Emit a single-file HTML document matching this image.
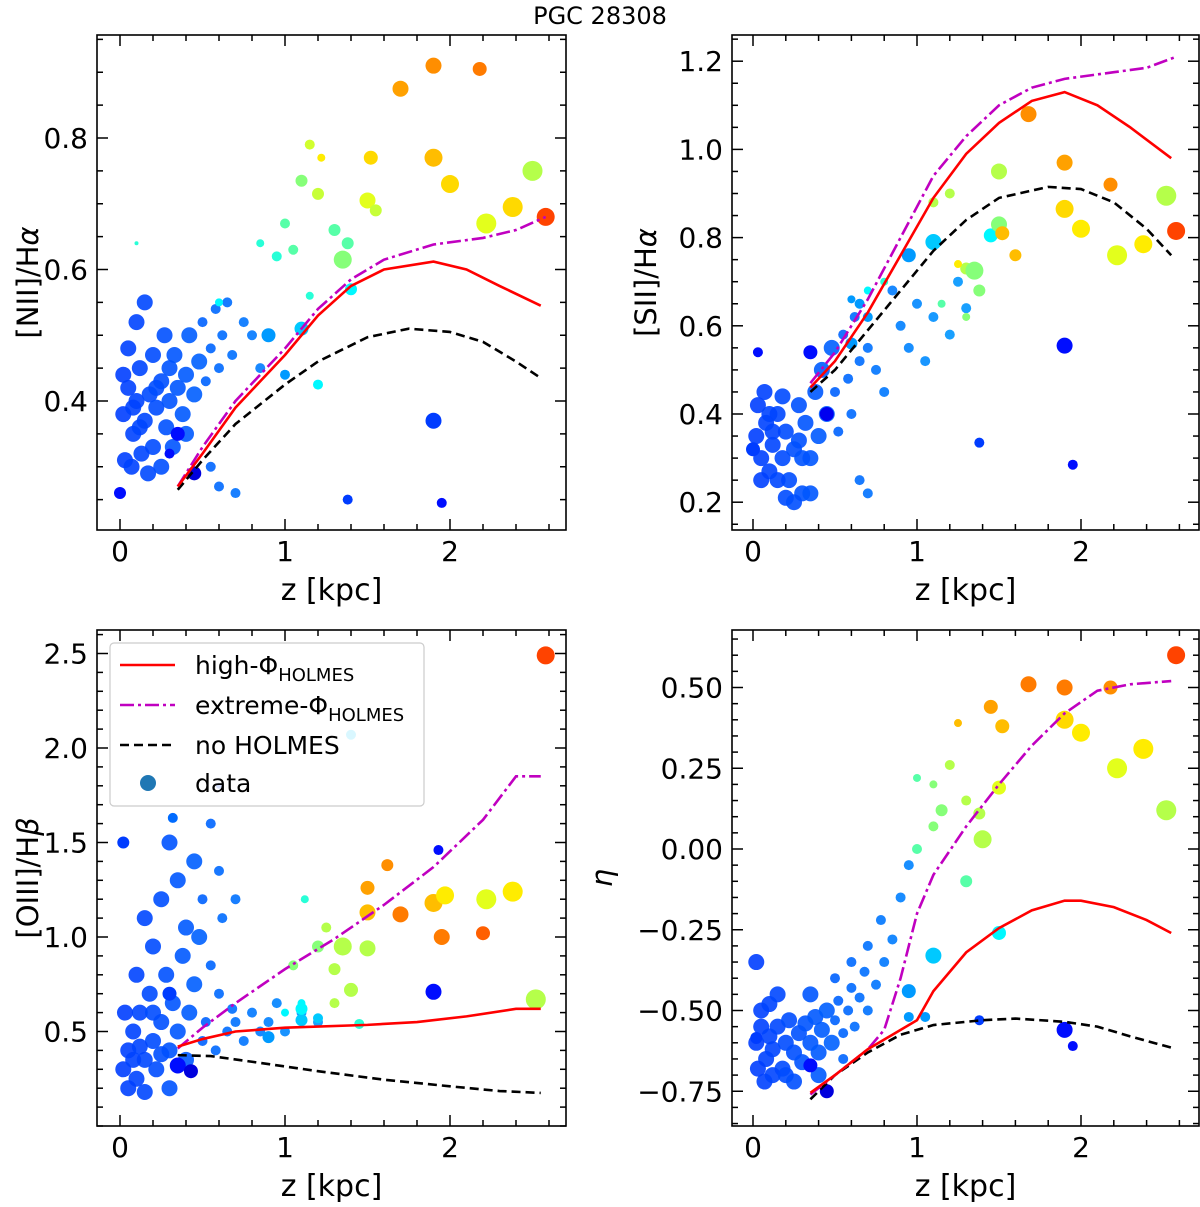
<!DOCTYPE html>
<html><head><meta charset="utf-8"><style>
body{margin:0;background:#fff;}
svg text{font-family:"DejaVu Sans","Liberation Sans",sans-serif;fill:#000;}
</style></head><body>
<svg id="fig" width="1200" height="1202" viewBox="0 0 1200 1202" xmlns="http://www.w3.org/2000/svg">
<text x="600" y="24" font-size="24" text-anchor="middle">PGC 28308</text>
</svg>
<script>
// ---------- data ----------
const ticksX = [0,1,2];
const ticksNII = [0.4,0.6,0.8];
const ticksSII = [0.2,0.4,0.6,0.8,1.0,1.2];
const ticksOIII = [0.5,1.0,1.5,2.0,2.5];
const ticksEta = [-0.75,-0.5,-0.25,0,0.25,0.5];
const labelsEta = ["\u22120.75","\u22120.50","\u22120.25","0.00","0.25","0.50"];

const niiHigh = [[0.35,0.27],[0.5,0.32],[0.7,0.39],[1.0,0.47],[1.2,0.53],[1.4,0.575],[1.6,0.60],[1.9,0.612],[2.1,0.60],[2.3,0.575],[2.55,0.545]];
const niiExt = [[0.35,0.27],[0.5,0.33],[0.7,0.40],[1.0,0.48],[1.2,0.54],[1.4,0.585],[1.6,0.615],[1.9,0.638],[2.2,0.648],[2.4,0.66],[2.58,0.68]];
const niiNo = [[0.35,0.265],[0.5,0.31],[0.7,0.365],[1.0,0.425],[1.2,0.46],[1.5,0.497],[1.75,0.51],[2.0,0.505],[2.2,0.49],[2.4,0.46],[2.55,0.435]];
const siiHigh = [[0.35,0.46],[0.5,0.52],[0.7,0.63],[0.9,0.76],[1.1,0.89],[1.3,0.99],[1.5,1.06],[1.7,1.11],[1.9,1.13],[2.1,1.10],[2.3,1.05],[2.55,0.98]];
const siiExt = [[0.35,0.47],[0.5,0.54],[0.7,0.66],[0.9,0.80],[1.1,0.94],[1.3,1.03],[1.5,1.10],[1.7,1.14],[1.9,1.16],[2.2,1.175],[2.4,1.185],[2.58,1.21]];
const siiNo = [[0.35,0.45],[0.5,0.50],[0.7,0.59],[0.9,0.68],[1.1,0.77],[1.3,0.84],[1.5,0.89],[1.8,0.915],[2.0,0.91],[2.2,0.88],[2.4,0.82],[2.55,0.76]];
const oiiiHigh = [[0.35,0.42],[0.5,0.46],[0.7,0.50],[1.0,0.52],[1.5,0.535],[1.8,0.55],[2.1,0.58],[2.4,0.62],[2.55,0.62]];
const oiiiExt = [[0.35,0.41],[0.5,0.52],[0.7,0.65],[1.0,0.83],[1.3,0.99],[1.6,1.17],[1.9,1.37],[2.2,1.62],[2.4,1.85],[2.55,1.85]];
const oiiiNo = [[0.35,0.375],[0.55,0.37],[0.8,0.34],[1.2,0.29],[1.6,0.245],[2.0,0.21],[2.3,0.185],[2.55,0.175]];
const etaHigh = [[0.35,-0.755],[0.5,-0.70],[0.7,-0.62],[0.9,-0.56],[1.0,-0.53],[1.1,-0.44],[1.3,-0.32],[1.5,-0.245],[1.7,-0.19],[1.9,-0.16],[2.0,-0.16],[2.2,-0.18],[2.4,-0.22],[2.55,-0.26]];
const etaExt = [[0.35,-0.76],[0.5,-0.70],[0.7,-0.62],[0.8,-0.56],[0.9,-0.40],[1.0,-0.20],[1.1,-0.08],[1.3,0.07],[1.5,0.20],[1.7,0.32],[1.9,0.42],[2.1,0.49],[2.3,0.51],[2.55,0.52]];
const etaNo = [[0.35,-0.775],[0.5,-0.70],[0.7,-0.63],[0.9,-0.575],[1.1,-0.545],[1.4,-0.53],[1.6,-0.525],[1.9,-0.535],[2.1,-0.55],[2.3,-0.58],[2.55,-0.615]];

// cloud points [z, value]
const niiCloud = [[0.02,0.38],[0.05,0.42],[0.08,0.35],[0.1,0.40],[0.12,0.45],[0.15,0.37],[0.18,0.41],[0.2,0.33],[0.22,0.39],[0.25,0.43],[0.28,0.36],[0.3,0.40],[0.33,0.47],[0.35,0.42],[0.38,0.38],[0.4,0.44],[0.42,0.50],[0.45,0.41],[0.48,0.46],[0.5,0.52],[0.52,0.43],[0.55,0.48],[0.58,0.54],[0.6,0.45],[0.62,0.50],[0.65,0.55],[0.68,0.47],[0.03,0.31],[0.07,0.30],[0.13,0.32],[0.17,0.29],[0.05,0.48],[0.1,0.52],[0.2,0.47],[0.27,0.50],[0.15,0.55],[0.02,0.44],[0.32,0.33],[0.55,0.30],[0.6,0.27],[0.7,0.26],[0.75,0.52],[0.8,0.50],[0.85,0.45],[0.25,0.30],[0.4,0.35],[0.12,0.36],[0.08,0.39],[0.22,0.42],[0.3,0.45]];
const siiCloud = [[0.02,0.35],[0.05,0.30],[0.08,0.38],[0.1,0.27],[0.12,0.33],[0.15,0.40],[0.18,0.30],[0.2,0.36],[0.22,0.25],[0.25,0.32],[0.28,0.42],[0.3,0.22],[0.32,0.38],[0.35,0.30],[0.38,0.45],[0.4,0.35],[0.42,0.50],[0.45,0.40],[0.48,0.55],[0.5,0.45],[0.52,0.36],[0.55,0.58],[0.58,0.48],[0.6,0.40],[0.62,0.62],[0.65,0.52],[0.03,0.42],[0.07,0.45],[0.1,0.40],[0.15,0.25],[0.2,0.21],[0.25,0.20],[0.18,0.44],[0.05,0.25],[0.35,0.22],[0.7,0.55],[0.75,0.50],[0.8,0.45],[0.85,0.68],[0.9,0.60],[0.95,0.55],[1.0,0.65],[1.05,0.52],[1.1,0.62],[1.2,0.58],[1.25,0.70],[1.3,0.64],[0.65,0.25],[0.7,0.22],[0.12,0.36],[0.28,0.34],[0.3,0.30]];
const oiiiCloud = [[0.02,0.3],[0.05,0.4],[0.08,0.5],[0.1,0.25],[0.12,0.6],[0.15,0.35],[0.18,0.7],[0.2,0.45],[0.22,0.3],[0.25,0.55],[0.28,0.8],[0.3,0.4],[0.32,0.65],[0.35,0.5],[0.38,0.9],[0.4,0.35],[0.42,0.6],[0.45,0.75],[0.48,1.0],[0.5,0.45],[0.52,0.55],[0.55,0.85],[0.58,0.4],[0.6,0.7],[0.62,1.1],[0.65,0.5],[0.68,0.62],[0.7,0.55],[0.75,0.45],[0.8,0.6],[0.03,0.6],[0.05,0.2],[0.1,0.8],[0.15,0.18],[0.2,0.95],[0.25,1.2],[0.3,0.2],[0.35,1.3],[0.4,1.05],[0.45,1.4],[0.5,1.2],[0.55,1.6],[0.3,1.5],[0.15,1.1],[0.2,0.6],[0.08,0.35],[0.12,0.42],[0.25,0.38],[0.85,0.5],[0.9,0.55],[1.0,0.5],[0.95,0.65],[1.1,0.6],[1.2,0.55],[0.6,1.35],[0.7,1.2]];
const etaCloud = [[0.02,-0.6],[0.05,-0.55],[0.08,-0.65],[0.1,-0.58],[0.12,-0.62],[0.15,-0.55],[0.18,-0.68],[0.2,-0.6],[0.22,-0.53],[0.25,-0.63],[0.28,-0.57],[0.3,-0.66],[0.32,-0.54],[0.35,-0.6],[0.38,-0.52],[0.4,-0.63],[0.42,-0.56],[0.45,-0.5],[0.48,-0.6],[0.5,-0.53],[0.52,-0.47],[0.55,-0.57],[0.58,-0.5],[0.6,-0.43],[0.62,-0.55],[0.65,-0.46],[0.68,-0.38],[0.7,-0.5],[0.03,-0.68],[0.07,-0.72],[0.12,-0.7],[0.05,-0.5],[0.1,-0.48],[0.2,-0.7],[0.25,-0.72],[0.4,-0.7],[0.75,-0.42],[0.8,-0.35],[0.85,-0.28],[0.78,-0.22],[0.7,-0.3],[0.6,-0.35],[0.9,-0.15],[0.95,-0.05],[0.02,-0.35],[0.15,-0.45],[0.35,-0.45],[0.5,-0.4],[0.55,-0.65]];

// big points [z, value, colour(0..1 jet), radius]
const niiPts = [[0.0,0.26,0.15,6],[0.35,0.35,0.15,7],[0.3,0.32,0.15,5],[0.45,0.29,0.1,7],[0.9,0.50,0.3,7],[1.1,0.51,0.35,7],[1.4,0.57,0.4,6],[1.0,0.44,0.3,5],[1.2,0.425,0.4,5],[1.9,0.37,0.2,8],[1.38,0.25,0.2,5],[1.95,0.245,0.15,5],[1.7,0.875,0.78,8],[1.9,0.91,0.8,8],[2.18,0.905,0.82,7],[1.9,0.77,0.75,9],[2.0,0.73,0.72,9],[1.52,0.77,0.72,7],[1.5,0.705,0.65,8],[1.35,0.615,0.55,9],[1.38,0.64,0.5,6],[1.3,0.66,0.5,6],[1.2,0.715,0.62,6],[1.1,0.735,0.55,6],[1.15,0.79,0.63,5],[1.22,0.77,0.7,4],[2.22,0.67,0.65,10],[2.38,0.695,0.72,10],[2.5,0.75,0.6,10],[2.58,0.68,0.88,9],[1.55,0.69,0.62,6],[1.05,0.63,0.5,5],[1.0,0.67,0.5,5],[0.95,0.62,0.45,5],[0.85,0.64,0.45,4],[1.15,0.56,0.45,4],[0.6,0.55,0.4,4],[0.1,0.64,0.45,2]];
const siiPts = [[0.0,0.32,0.2,7],[0.03,0.54,0.15,5],[0.45,0.40,0.12,7],[0.35,0.54,0.15,7],[0.6,0.56,0.3,6],[0.65,0.65,0.3,5],[0.7,0.62,0.3,5],[0.95,0.76,0.3,7],[1.1,0.79,0.35,8],[1.45,0.805,0.4,7],[1.9,0.555,0.15,8],[1.38,0.335,0.2,5],[1.95,0.285,0.15,5],[1.3,0.73,0.6,6],[1.35,0.725,0.55,9],[1.38,0.68,0.55,6],[1.5,0.83,0.55,8],[1.52,0.81,0.75,7],[1.6,0.76,0.75,6],[1.5,0.95,0.6,8],[1.68,1.08,0.8,8],[1.9,0.97,0.78,8],[1.9,0.865,0.72,9],[2.0,0.82,0.7,9],[2.18,0.92,0.8,7],[2.22,0.76,0.65,10],[2.38,0.785,0.7,9],[2.52,0.895,0.6,10],[2.58,0.815,0.88,9],[1.2,0.90,0.6,5],[1.1,0.88,0.6,5],[1.25,0.74,0.7,4],[1.15,0.65,0.5,4],[1.3,0.62,0.55,4],[0.8,0.70,0.45,4],[0.7,0.68,0.4,4],[0.6,0.66,0.3,4]];
const oiiiPts = [[0.02,1.5,0.2,6],[0.32,1.63,0.25,5],[0.3,0.70,0.2,7],[0.35,0.32,0.15,8],[0.43,0.29,0.1,7],[0.9,0.47,0.3,6],[1.1,0.56,0.35,6],[1.1,0.62,0.4,6],[1.2,0.57,0.35,5],[1.4,2.07,0.35,5],[1.45,0.54,0.45,5],[1.1,0.65,0.4,4],[1.0,0.60,0.4,4],[1.05,0.85,0.55,5],[1.2,0.95,0.55,6],[1.3,0.83,0.6,6],[1.25,1.05,0.6,5],[1.12,1.2,0.45,4],[1.35,0.95,0.6,9],[1.5,0.94,0.6,8],[1.4,0.72,0.6,7],[1.3,0.65,0.6,5],[1.5,1.13,0.75,8],[1.7,1.12,0.82,8],[1.5,1.26,0.78,7],[1.62,1.38,0.8,6],[1.9,1.18,0.75,9],[1.97,1.22,0.7,9],[1.95,1.0,0.82,8],[2.2,1.02,0.85,7],[2.22,1.2,0.65,10],[2.38,1.24,0.7,10],[2.52,0.67,0.6,10],[2.58,2.49,0.88,9],[1.9,0.71,0.15,8],[1.93,1.46,0.15,5],[0.6,1.8,0.2,3]];
const etaPts = [[0.02,-0.585,0.2,6],[0.35,-0.67,0.15,7],[0.45,-0.75,0.1,7],[0.95,-0.44,0.3,7],[1.1,-0.33,0.35,8],[1.5,-0.26,0.4,7],[1.38,-0.53,0.2,5],[1.9,-0.56,0.15,8],[1.95,-0.61,0.15,5],[1.05,-0.52,0.3,5],[0.95,-0.52,0.3,5],[1.0,0.0,0.5,5],[1.1,0.07,0.55,5],[1.15,0.12,0.55,6],[1.2,0.26,0.6,5],[1.25,0.39,0.75,4],[1.38,0.11,0.6,6],[1.5,0.19,0.65,7],[1.4,0.03,0.6,9],[1.3,-0.1,0.5,6],[1.45,0.44,0.78,7],[1.52,0.38,0.75,7],[1.68,0.51,0.82,8],[1.9,0.50,0.82,8],[1.9,0.40,0.72,9],[2.0,0.36,0.7,9],[2.18,0.50,0.8,7],[2.22,0.25,0.65,10],[2.38,0.31,0.7,10],[2.52,0.12,0.6,10],[2.58,0.60,0.88,9],[1.3,0.15,0.6,5],[1.1,0.2,0.55,4],[1.0,0.22,0.5,4]];

// ---------- drawing ----------
const NS = "http://www.w3.org/2000/svg";
const svg = document.getElementById('fig');
function mk(tag, attrs, parent){
  const e = document.createElementNS(NS, tag);
  for (const k in attrs) e.setAttribute(k, attrs[k]);
  (parent||svg).appendChild(e);
  return e;
}
function jet(v){
  v = v * 0.92;
  const c = x => Math.max(0, Math.min(1, x));
  const r = c(1.5 - Math.abs(4*v - 3)), g = c(1.5 - Math.abs(4*v - 2)), b = c(1.5 - Math.abs(4*v - 1));
  return `rgb(${Math.round(r*255)},${Math.round(g*255)},${Math.round(b*255)})`;
}
function panel(p){
  const X = z => p.xa + p.xb*z;
  const Y = v => p.ya - (v - p.yv)*p.yk;
  const g = mk('g', {});
  
  
  const cid = 'clip-' + p.name;
  const cp = mk('clipPath', {id: cid}, g);
  mk('rect', {x:p.x0, y:p.y0, width:p.x1-p.x0, height:p.y1-p.y0}, cp);
  const plot = mk('g', {'clip-path': `url(#${cid})`}, g);
  p.cloud.forEach(d => {
    const c = mk('circle', {cx:X(d[0]), cy:Y(d[1]), r:(d[0] < 0.5 ? 8 : 5), fill:jet(0.2 + 0.08*Math.min(d[0],1.2)), opacity:0.9}, plot);
    
    
  });
  p.pts.forEach(d => {
    const c = mk('circle', {cx:X(d[0]), cy:Y(d[1]), r:d[3], fill:jet(d[2])}, plot);
    
    
  });
  const lines = [[p.no,'#000','9,5','no-holmes-line'],[p.ext,'#c000c0','14,4,3,4','extreme-phi-line'],[p.high,'#ff0000','','high-phi-line']];
  lines.forEach(l => {
    const pl = mk('polyline', {points:l[0].map(d => X(d[0])+','+Y(d[1])).join(' '), fill:'none', stroke:l[1], 'stroke-width':2.6, 'stroke-dasharray':l[2]}, plot);
    
    
  });
  const fr = mk('rect', {x:p.x0, y:p.y0, width:p.x1-p.x0, height:p.y1-p.y0, fill:'none', stroke:'#000', 'stroke-width':1.6}, g);
  
  
  for (let z = -0.2; z <= 2.81; z += 0.2){
    const xx = X(z); if (xx < p.x0 || xx > p.x1) continue;
    const major = Math.abs(z - Math.round(z)) < 1e-6;
    const L = major ? 11 : 6;
    mk('line', {x1:xx, x2:xx, y1:p.y1, y2:p.y1-L, stroke:'#000', 'stroke-width':1.5}, g);
    mk('line', {x1:xx, x2:xx, y1:p.y0, y2:p.y0+L, stroke:'#000', 'stroke-width':1.5}, g);
  }
  ticksX.forEach(z => {
    const t = mk('text', {x:X(z), y:p.y1+31, 'font-size':28, 'text-anchor':'middle'}, g);
    t.textContent = String(z);
    
    
  });
  const step = p.minor;
  for (let v = p.ymin; v <= p.ymax + 1e-9; v += step){
    const yy = Y(v); if (yy < p.y0 || yy > p.y1) continue;
    const major = p.ticks.some(t => Math.abs(t - v) < 1e-6);
    const L = major ? 11 : 6;
    mk('line', {x1:p.x0, x2:p.x0+L, y1:yy, y2:yy, stroke:'#000', 'stroke-width':1.5}, g);
    mk('line', {x1:p.x1, x2:p.x1-L, y1:yy, y2:yy, stroke:'#000', 'stroke-width':1.5}, g);
  }
  p.ticks.forEach((v,i) => {
    const t = mk('text', {x:p.x0-9, y:Y(v)+10, 'font-size':28, 'text-anchor':'end'}, g);
    t.textContent = p.labels ? p.labels[i] : v.toFixed(1);
    
    
  });
  const xl = mk('text', {x:(p.x0+p.x1)/2, y:p.y1+70, 'font-size':30, 'text-anchor':'middle'}, g);
  xl.textContent = 'z [kpc]';
  
  
  const yc = (p.y0+p.y1)/2;
  const yl = mk('text', {x:p.ylx, y:yc, 'font-size':29, 'text-anchor':'middle', transform:`rotate(-90 ${p.ylx} ${yc})`}, g);
  yl.innerHTML = p.ylabel;
  
  
}
panel({name:'nii-panel', x0:97,x1:566,y0:35,y1:530, xa:120,xb:165, ya:401,yv:0.4,yk:657.5, ticks:ticksNII, minor:0.05, ymin:0.2, ymax:1.0, ylx:38, ylabel:'[NII]/H<tspan font-style="italic">α</tspan>', cloud:niiCloud, pts:niiPts, high:niiHigh, ext:niiExt, no:niiNo});
panel({name:'sii-panel', x0:732,x1:1199,y0:35,y1:530, xa:753,xb:164, ya:414,yv:0.4,yk:441, ticks:ticksSII, minor:0.05, ymin:0.1, ymax:1.3, ylx:656, ylabel:'[SII]/H<tspan font-style="italic">α</tspan>', cloud:siiCloud, pts:siiPts, high:siiHigh, ext:siiExt, no:siiNo});
panel({name:'oiii-panel', x0:97,x1:566,y0:630,y1:1126, xa:120,xb:165, ya:937,yv:1.0,yk:189, ticks:ticksOIII, minor:0.1, ymin:0.0, ymax:2.7, ylx:38, ylabel:'[OIII]/H<tspan font-style="italic">β</tspan>', cloud:oiiiCloud, pts:oiiiPts, high:oiiiHigh, ext:oiiiExt, no:oiiiNo});
panel({name:'eta-panel', x0:732,x1:1199,y0:630,y1:1126, xa:753,xb:164, ya:849,yv:0,yk:323, ticks:ticksEta, labels:labelsEta, minor:0.05, ymin:-0.9, ymax:0.7, ylx:612, ylabel:'<tspan font-style="italic">η</tspan>', cloud:etaCloud, pts:etaPts, high:etaHigh, ext:etaExt, no:etaNo});

const lg = mk('g', {});


mk('rect', {x:110, y:643, width:314, height:163, rx:4, fill:'#fff', 'fill-opacity':0.85, stroke:'#ccc', 'stroke-width':1.2}, lg);
const entries = [['#ff0000','','high-Φ','HOLMES'],['#c000c0','14,4,3,4','extreme-Φ','HOLMES'],['#000','9,5','no HOLMES','']];
entries.forEach((e,i) => {
  const y = 665 + i*40;
  mk('line', {x1:120, x2:175, y1:y, y2:y, stroke:e[0], 'stroke-width':2.6, 'stroke-dasharray':e[1]}, lg);
  const t = mk('text', {x:195, y:y+9, 'font-size':25}, lg);
  t.innerHTML = e[2] + (e[3] ? `<tspan font-size="18" dy="7">${e[3]}</tspan>` : '');
  
  
});
mk('circle', {cx:148, cy:783, r:8, fill:'#1f77b4'}, lg);
const dt = mk('text', {x:195, y:792, 'font-size':25}, lg);
dt.textContent = 'data';


</script>
</body></html>
